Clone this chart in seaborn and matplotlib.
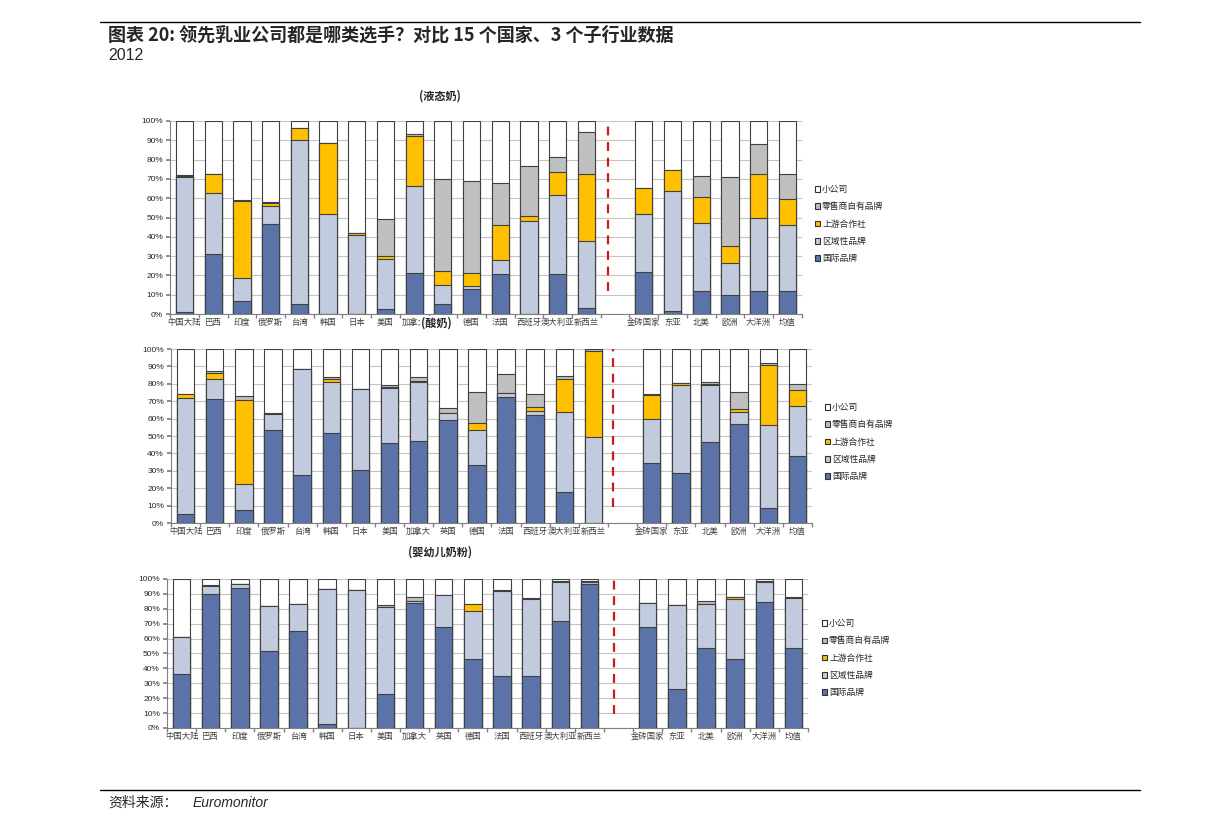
import numpy as np
import pandas as pd
import seaborn as sns
import matplotlib.pyplot as plt
from matplotlib.patches import Patch
from matplotlib.lines import Line2D

sns.set_theme(style="ticks")
plt.rcParams['font.family'] = ['Noto Sans CJK SC', 'DejaVu Sans']

countries = ['中国大陆', '巴西', '印度', '俄罗斯', '台湾', '韩国', '日本', '美国', '加拿大',
             '英国', '德国', '法国', '西班牙', '澳大利亚', '新西兰']
regions = ['金砖国家', '东亚', '北美', '欧洲', '大洋洲', '均值']
gap = ' '

layer_names = ['国际品牌', '区域性品牌', '上游合作社', '零售商自有品牌', '小公司']
layer_colors = ['#5B73A8', '#C1CBDD', '#FFC000', '#BFBFBF', '#FFFFFF']

# (液态奶) shares in %, countries then regions
milk_intl = [1.2, 31.3, 6.9, 46.9, 5.4, 0, 0, 2.9, 21.5, 5.4, 12.8, 20.9, 0, 20.9, 3.3,
             21.6, 1.7, 12.1, 9.7, 12.1, 11.8]
milk_regional = [69.6, 31.2, 12.0, 9.3, 84.6, 51.6, 41.2, 25.5, 44.6, 9.8, 1.9, 7.1, 48.1, 40.7, 34.4,
                 30.5, 61.8, 35.3, 16.8, 37.7, 34.2]
milk_coop = [0.7, 9.8, 39.6, 1.1, 6.2, 36.8, 1.0, 1.7, 25.9, 7.3, 6.8, 18.2, 2.6, 11.8, 34.6,
             13.0, 11.1, 13.5, 9.0, 23.0, 13.7]
milk_retail = [0.6, 0.5, 0.5, 0.5, 0, 0, 0, 19.2, 1.4, 47.4, 47.5, 21.6, 25.9, 8.1, 22.0,
               0, 0, 10.4, 35.3, 15.1, 13.0]
milk_small = [27.9, 27.2, 41.0, 42.2, 3.8, 11.6, 57.8, 50.7, 6.6, 30.1, 31.0, 32.2, 23.4, 18.5, 5.7,
              34.9, 25.4, 28.7, 29.2, 12.1, 27.3]

# (酸奶)
yog_intl = [5.2, 71.3, 7.3, 53.7, 27.5, 51.5, 30.2, 45.8, 47.1, 59.2, 33.3, 72.3, 62.3, 17.7, 0,
            34.4, 28.5, 46.3, 56.7, 8.8, 38.8]
yog_regional = [66.7, 11.2, 15.4, 9.2, 61.2, 29.5, 46.7, 31.9, 34.1, 4.3, 20.0, 2.3, 2.1, 46.0, 49.6,
                25.6, 51.1, 33.1, 7.0, 47.7, 28.7]
yog_coop = [2.1, 3.7, 47.9, 0, 0, 1.9, 0, 0.3, 0.3, 0, 4.2, 0, 2.1, 19.2, 49.4,
            13.5, 1.0, 0.3, 1.7, 34.5, 8.7]
yog_retail = [0, 1.1, 2.5, 0.3, 0, 0.8, 0.3, 1.6, 2.3, 2.5, 17.9, 11.0, 7.7, 1.5, 1.0,
              0.9, 0, 1.6, 9.8, 0.7, 3.6]
yog_small = [26.0, 12.7, 26.9, 36.8, 11.3, 16.3, 22.8, 20.4, 16.2, 34.0, 24.6, 14.4, 25.8, 15.6, 0,
             25.6, 19.4, 18.7, 24.8, 8.3, 20.2]

# (婴幼儿奶粉)
inf_intl = [36.3, 89.9, 93.7, 51.6, 65.0, 2.5, 0, 23.1, 83.9, 67.5, 46.0, 35.2, 35.0, 72.0, 96.6,
            67.9, 26.0, 53.6, 46.0, 84.3, 53.4]
inf_regional = [24.5, 5.6, 2.9, 30.0, 18.2, 90.5, 92.4, 57.8, 1.0, 21.5, 32.3, 56.7, 51.5, 25.8, 1.2,
                15.7, 56.5, 29.6, 40.3, 13.5, 33.6]
inf_coop = [0, 0, 0, 0, 0, 0, 0, 0, 0, 0, 5.1, 0, 0, 0, 0,
            0, 0, 0, 1.4, 0, 0.5]
inf_retail = [0, 0.5, 0, 0, 0, 0, 0, 1.8, 3.2, 0, 0, 0.5, 0.5, 0.5, 0.7,
              0, 0, 2.2, 0, 0.5, 0.4]
inf_small = [39.2, 4.0, 3.4, 18.4, 16.8, 7.0, 7.6, 17.3, 11.9, 11.0, 16.6, 7.6, 13.0, 1.7, 1.5,
             16.4, 17.5, 14.6, 12.3, 1.7, 12.1]


def stacked(ax, parts, sep_x, sep_bottom):
    cats = countries + regions
    order = countries + [gap] + regions
    cum = np.cumsum(np.array(parts, dtype=float), axis=0)
    # tallest (cumulative) layer first, lower layers painted over it
    for k in range(len(parts) - 1, -1, -1):
        df = pd.DataFrame({'cat': cats, 'val': cum[k]})
        sns.barplot(data=df, x='cat', y='val', order=order, color=layer_colors[k],
                    saturation=1, width=0.6, edgecolor='#404040', linewidth=0.8,
                    errorbar=None, ax=ax)
    ax.set_xlim(-0.5, 21.5)
    ax.set_ylim(0, 100)
    ax.set_yticks(range(0, 101, 10))
    ax.set_yticklabels(['%d%%' % v for v in range(0, 101, 10)], fontsize=6,
                       family=['Liberation Sans'])
    ax.set_xticks(range(22))
    ax.set_xticklabels(order, fontsize=6, color='#404040')
    ax.set_xticks(np.arange(-0.5, 22, 1), minor=True)
    ax.tick_params(axis='x', which='major', length=0, pad=3)
    ax.tick_params(axis='x', which='minor', length=3, color='#808080')
    ax.tick_params(axis='y', length=3, color='#808080', pad=2)
    ax.yaxis.grid(True, color='#C4C4C4', lw=0.8)
    ax.set_axisbelow(True)
    ax.set_xlabel('')
    ax.set_ylabel('')
    sns.despine(ax=ax)
    for s in ['left', 'bottom']:
        ax.spines[s].set_color('#808080')
        ax.spines[s].set_linewidth(0.8)
    ax.plot([sep_x, sep_x], [sep_bottom, 100], color='#D01818', ls=(0, (4, 3)), lw=1.6)


def legend(fig, x, y):
    handles = [Patch(facecolor=layer_colors[k], edgecolor='#303030', lw=0.8, label=layer_names[k])
               for k in range(4, -1, -1)]
    fig.legend(handles=handles, loc='upper left', bbox_to_anchor=(x, y), frameon=False,
               fontsize=6.3, handlelength=0.6, handleheight=0.6, handletextpad=0.2,
               labelspacing=0.95, borderpad=0, borderaxespad=0)


fig = plt.figure(figsize=(12.24, 8.31), dpi=100)

ax1 = fig.add_axes([0.139, 0.622, 0.516, 0.2324])
stacked(ax1, [milk_intl, milk_regional, milk_coop, milk_retail, milk_small], 14.76, 12)
legend(fig, 0.666, 0.7774)

ax2 = fig.add_axes([0.1397, 0.3706, 0.5237, 0.2094])
stacked(ax2, [yog_intl, yog_regional, yog_coop, yog_retail, yog_small], 14.66, 9.5)
legend(fig, 0.674, 0.515)

ax3 = fig.add_axes([0.1364, 0.124, 0.5237, 0.1793])
stacked(ax3, [inf_intl, inf_regional, inf_coop, inf_retail, inf_small], 14.84, 9.5)
legend(fig, 0.6716, 0.255)

# panel titles
fig.text(440 / 1224, 1 - 96 / 831, '(液态奶)', ha='center', va='center', fontsize=8, weight='bold')
fig.text(436 / 1224, 1 - 323 / 831, '(酸奶)', ha='center', va='center', fontsize=8, weight='bold',
         bbox=dict(facecolor='white', edgecolor='none', pad=0.5))
fig.text(440 / 1224, 1 - 552 / 831, '(婴幼儿奶粉)', ha='center', va='center', fontsize=8, weight='bold')

# header and footer
fig.add_artist(Line2D([100 / 1224, 1140 / 1224], [1 - 22 / 831] * 2, color='black', lw=1))
fig.text(108 / 1224, 1 - 35 / 831, '图表 20: 领先乳业公司都是哪类选手？对比 15 个国家、3 个子行业数据',
         fontsize=13, weight='bold', va='center')
fig.text(108 / 1224, 1 - 56 / 831, '2012', fontsize=11.5, va='center',
         family=['Liberation Sans'])
fig.add_artist(Line2D([100 / 1224, 1140 / 1224], [1 - 790 / 831] * 2, color='black', lw=1))
fig.text(108 / 1224, 1 - 803 / 831, '资料来源：', fontsize=10, va='center')
fig.text(193 / 1224, 1 - 803 / 831, 'Euromonitor', fontsize=10, style='italic', va='center',
         family=['Liberation Sans'])

fig.savefig('out.png', dpi=100)
